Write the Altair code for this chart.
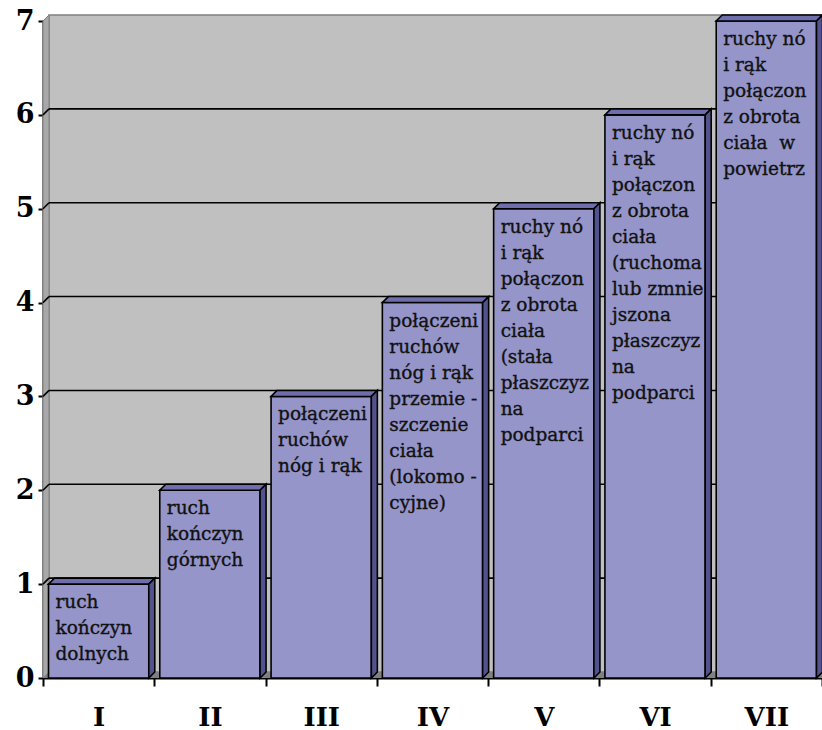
import json
import altair as alt
import pandas as pd

# ---- data ----
categories = ["I", "II", "III", "IV", "V", "VI", "VII"]
values = [1, 2, 3, 4, 5, 6, 7]
bar_texts = [
    "ruch\nkończyn\ndolnych",
    "ruch\nkończyn\ngórnych",
    "połączenie\nruchów\nnóg i rąk",
    "połączenie\nruchów\nnóg i rąk\nprzemie -\nszczeniem\nciała\n(lokomo -\ncyjne)",
    "ruchy nóg\ni rąk\npołączone\nz obrotami\nciała\n(stała\npłaszczyz\nna\npodparcia)",
    "ruchy nóg\ni rąk\npołączone\nz obrotami\nciała\n(ruchoma\nlub zmnie -\njszona\npłaszczyz\nna\npodparcia)",
    "ruchy nóg\ni rąk\npołączone\nz obrotami\nciała\u00a0 w\npowietrzu",
]
y_ticks = [0, 1, 2, 3, 4, 5, 6, 7]
grid_values = [1, 2, 3, 4, 5, 6]

# ---- geometry / style ----
W, H = 779, 657
NCAT = len(categories)
YMAX = 7
UX = NCAT / W          # data units per pixel (x)
UY = YMAX / H          # data units per pixel (y)
DX, DY = 6, 6          # 3D depth in px
BAND = W / NCAT
L = 5.5
R = BAND - 5.5

FRONT = "#9595C9"
SIDE = "#52528E"
TOP = "#6E6EAC"
WALL = "#C0C0C0"

xs = alt.Scale(domain=[0, NCAT], nice=False, zero=False)
ys = alt.Scale(domain=[0, YMAX], nice=False, zero=False)

label_arr = json.dumps(categories + [""])
xaxis = alt.Axis(
    values=list(range(NCAT + 1)),
    labelExpr=f"{label_arr}[datum.value]",
    labelOffset=BAND / 2,
    labelOverlap=False,
    labelFlush=False,
    labelFont="DejaVu Serif",
    labelFontWeight="bold",
    labelFontSize=26,
    labelColor="black",
    labelPadding=18,
    tickSize=8,
    tickWidth=2,
    tickColor="black",
    domainColor="black",
    domainWidth=2,
    grid=False,
    title=None,
)
yaxis = alt.Axis(
    values=y_ticks,
    format="d",
    labelFont="DejaVu Serif",
    labelFontWeight="bold",
    labelFontSize=27,
    labelColor="black",
    labelPadding=4,
    labelFlush=False,
    labelOverlap=False,
    tickSize=5,
    tickWidth=2,
    tickColor="black",
    domainColor="black",
    domainWidth=2,
    grid=False,
    title=None,
)

two = pd.DataFrame({"k": [0, 1]})
one = pd.DataFrame({"k": [0]})

# back wall
wall = alt.Chart(one).transform_calculate(
    x1=f"{DX * UX}", x2=f"{NCAT}", y1=f"{DY * UY}", y2=f"{YMAX + DY * UY}"
).mark_rect(fill=WALL, stroke="#808080", strokeWidth=1.5).encode(
    x=alt.X("x1:Q", scale=xs, axis=xaxis),
    x2="x2:Q",
    y=alt.Y("y1:Q", scale=ys, axis=yaxis),
    y2="y2:Q",
)

# left side wall
side_wall = alt.Chart(two).transform_calculate(
    xx=f"datum.k * {DX * UX}",
    ya=f"datum.k * {DY * UY}",
    yb=f"{YMAX} + datum.k * {DY * UY}",
).mark_area(orient="vertical", fill="#A8A8A8", stroke="#808080", strokeWidth=1).encode(
    x=alt.X("xx:Q", scale=xs), y=alt.Y("yb:Q", scale=ys), y2="ya:Q"
)

# floor
floor = alt.Chart(two).transform_calculate(
    yy=f"datum.k * {DY * UY}",
    xa=f"datum.k * {DX * UX}",
    xb=f"{NCAT} + datum.k * {DX * UX}",
).mark_area(orient="horizontal", fill="#808080").encode(
    y=alt.Y("yy:Q", scale=ys), x=alt.X("xa:Q", scale=xs), x2="xb:Q"
)

gdf = pd.DataFrame({"v": grid_values})
grid_back = alt.Chart(gdf).transform_calculate(
    x1=f"{DX * UX}", x2=f"{NCAT}", yy=f"datum.v + {DY * UY}"
).mark_rule(color="black", strokeWidth=1.6).encode(
    x=alt.X("x1:Q", scale=xs), x2="x2:Q", y=alt.Y("yy:Q", scale=ys)
)
grid_side = alt.Chart(gdf).transform_calculate(
    x1="0", x2=f"{DX * UX}", y1="datum.v", y2=f"datum.v + {DY * UY}"
).mark_rule(color="black", strokeWidth=1.6).encode(
    x=alt.X("x1:Q", scale=xs), x2="x2:Q", y=alt.Y("y1:Q", scale=ys), y2="y2:Q"
)

bars_df = pd.DataFrame(
    {"i": list(range(NCAT)), "cat": categories, "v": values, "txt": bar_texts}
)

front = alt.Chart(bars_df).transform_calculate(
    xl=f"datum.i + {L * UX}", xr=f"datum.i + {R * UX}", y0="0"
).mark_rect(fill=FRONT, stroke="black", strokeWidth=1.6).encode(
    x=alt.X("xl:Q", scale=xs), x2="xr:Q", y=alt.Y("v:Q", scale=ys), y2="y0:Q"
)

bars_two = alt.Chart(bars_df).transform_calculate(p0="0", p1="1").transform_fold(
    ["p0", "p1"], as_=["pk", "kstr"]
).transform_calculate(k="toNumber(datum.kstr)")

side = bars_two.transform_calculate(
    xx=f"datum.i + ({R} + datum.k * {DX}) * {UX}",
    ya=f"datum.k * {DY * UY}",
    yb=f"datum.v + datum.k * {DY * UY}",
).mark_area(orient="vertical", fill=SIDE, stroke="black", strokeWidth=1.6).encode(
    x=alt.X("xx:Q", scale=xs), y=alt.Y("yb:Q", scale=ys), y2="ya:Q", detail="cat:N"
)

top = bars_two.transform_calculate(
    yy=f"datum.v + datum.k * {DY * UY}",
    xa=f"datum.i + ({L} + datum.k * {DX}) * {UX}",
    xb=f"datum.i + ({R} + datum.k * {DX}) * {UX}",
).mark_area(orient="horizontal", fill=TOP, stroke="black", strokeWidth=1.6).encode(
    y=alt.Y("yy:Q", scale=ys), x=alt.X("xa:Q", scale=xs), x2="xb:Q", detail="cat:N"
)

text = alt.Chart(bars_df).transform_calculate(
    xl=f"datum.i + {L * UX}"
).mark_text(
    align="left",
    baseline="top",
    dx=7,
    dy=9,
    font="DejaVu Serif",
    fontSize=18.5,
    lineHeight=26,
    lineBreak="\n",
    limit=R - L - 7,
    ellipsis="\u200b",
    color="#111111",
    stroke="#111111",
    strokeWidth=0.35,
).encode(x=alt.X("xl:Q", scale=xs), y=alt.Y("v:Q", scale=ys), text="txt:N")

chart = alt.layer(
    wall, side_wall, floor, grid_back, grid_side, front, top, side, text
).properties(
    width=W,
    height=H,
    padding={"left": 43, "top": 21, "right": 0, "bottom": 52},
    autosize=alt.AutoSizeParams(type="none"),
    background="white",
).configure_view(stroke=None)

chart.save("out.html", embed_options={"renderer": "svg", "actions": False})
